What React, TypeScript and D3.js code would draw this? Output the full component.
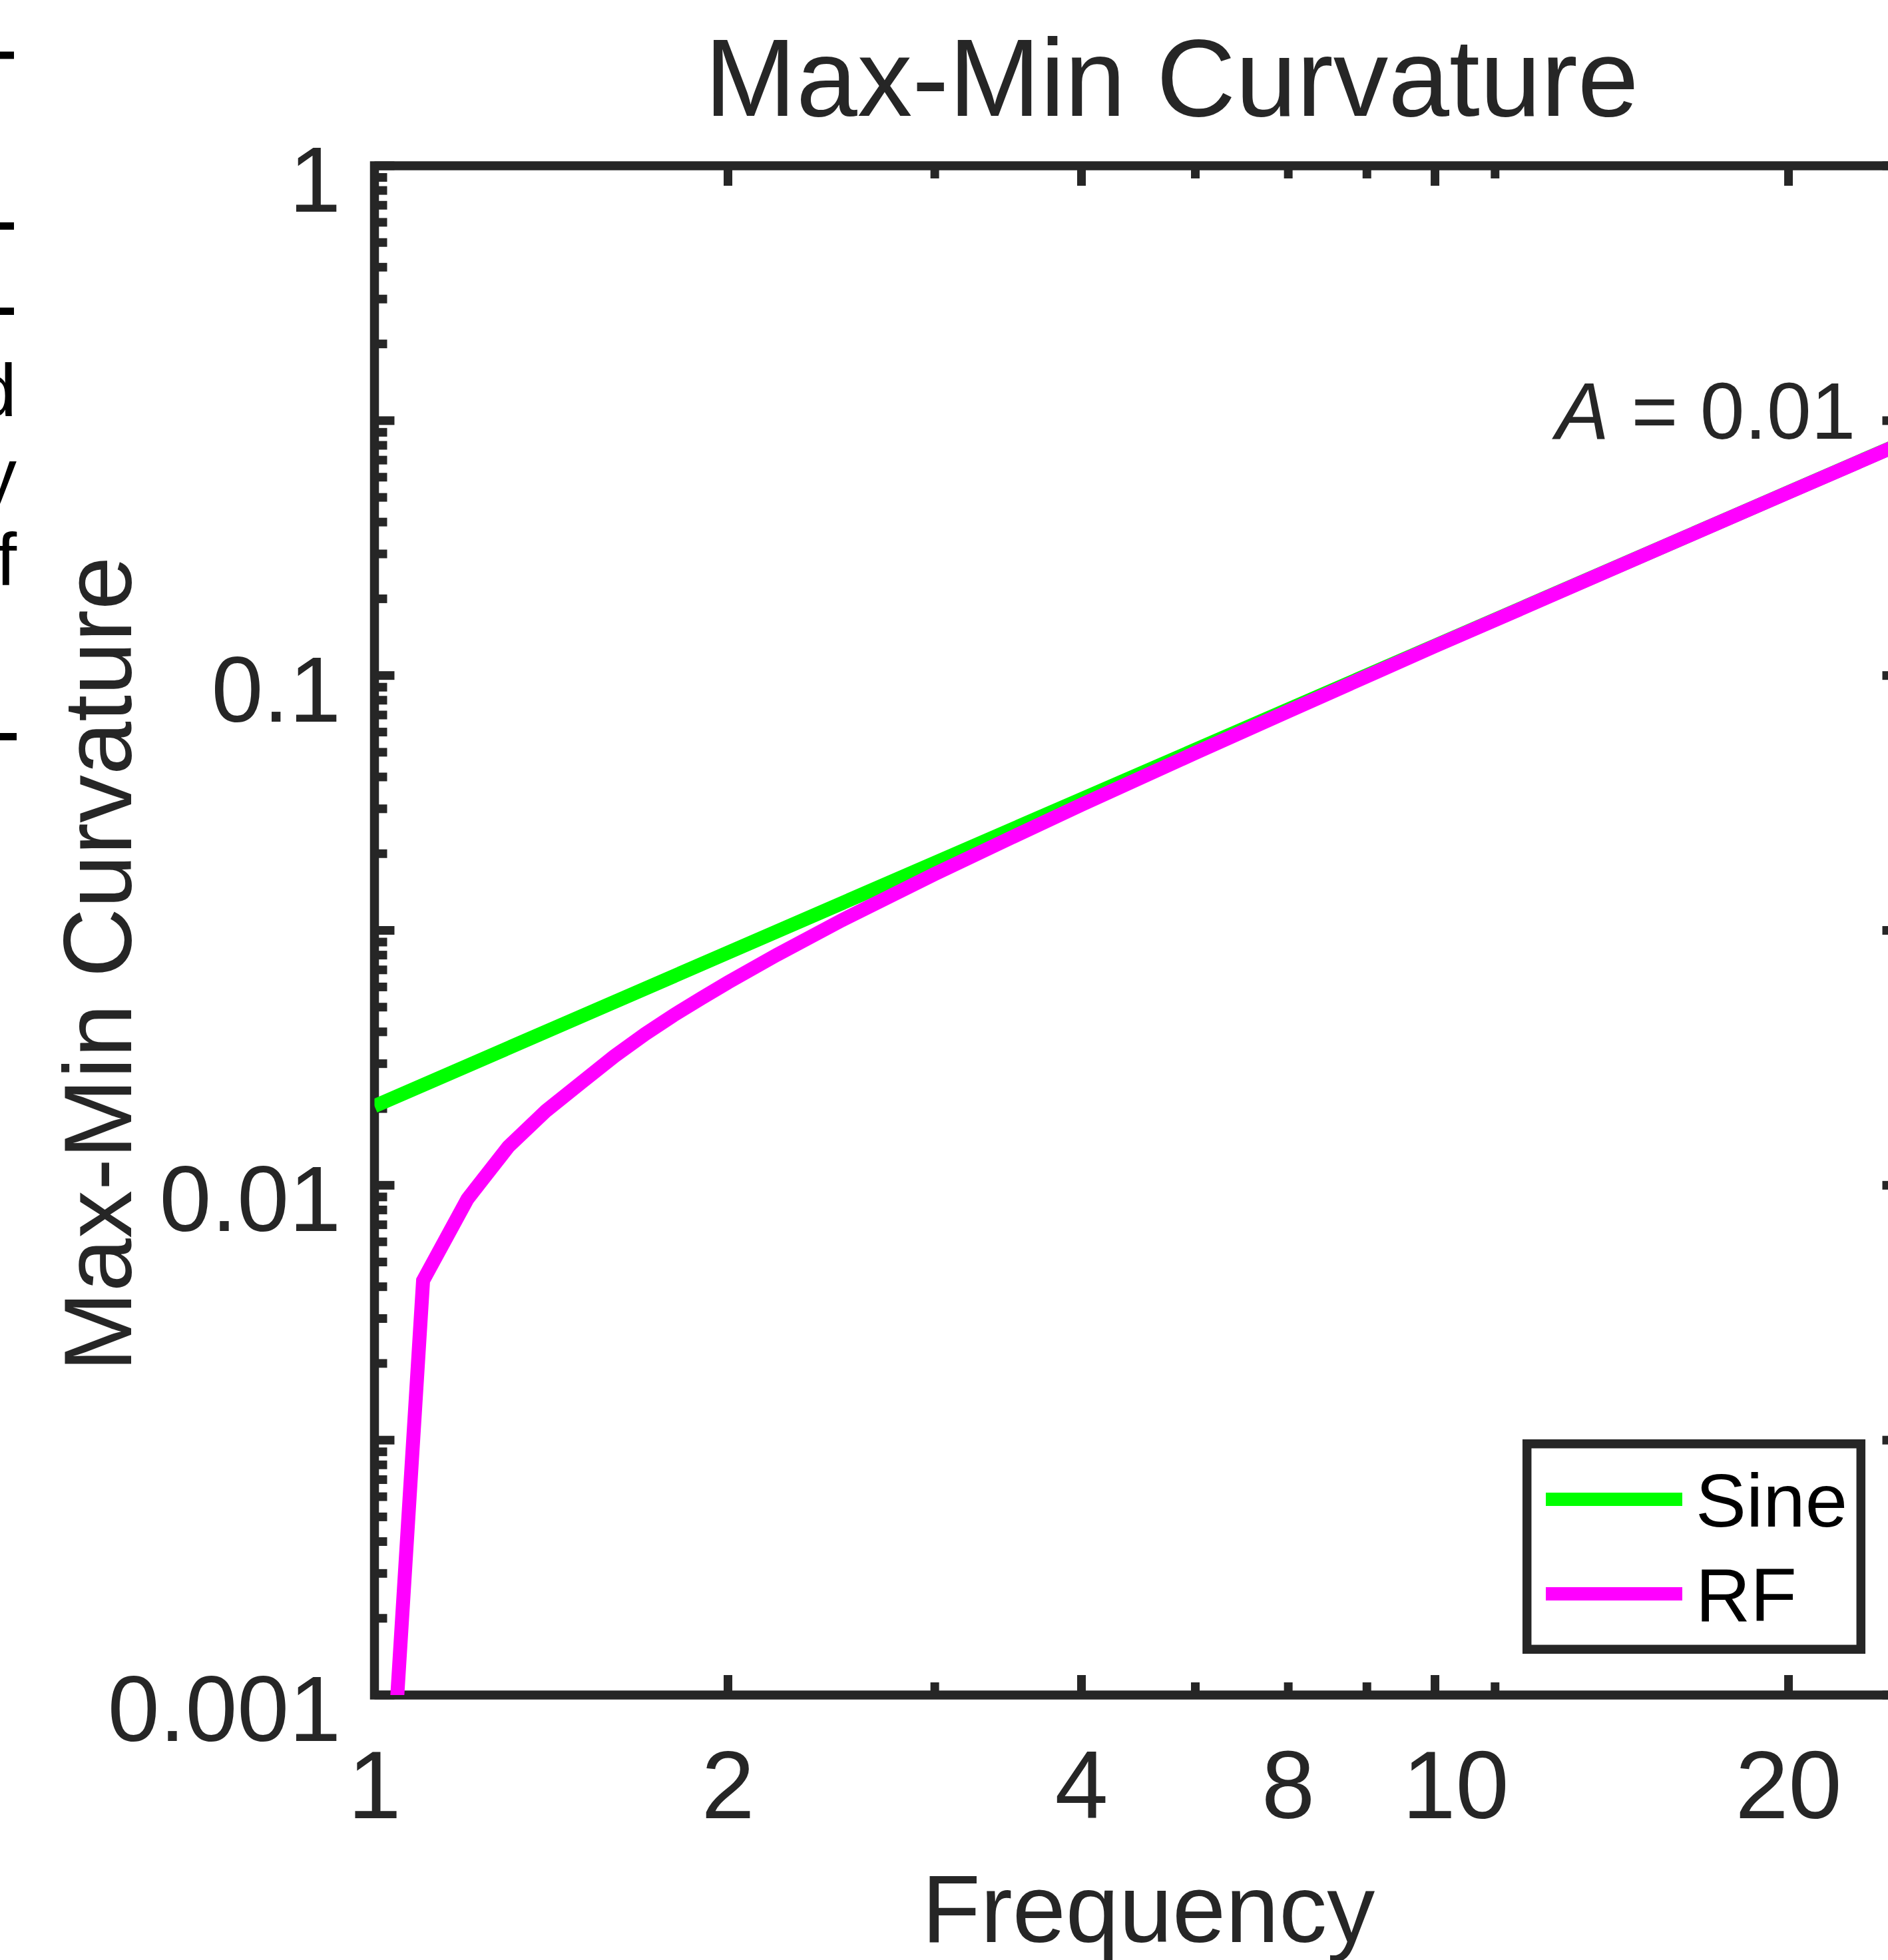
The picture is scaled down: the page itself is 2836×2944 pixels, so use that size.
import React, { useRef, useEffect } from 'react';
import * as d3 from 'd3';

// RF curve (y in the units printed on the axis)
const rfFrequency = [1.0, 1.1, 1.2, 1.3, 1.4, 1.5, 1.6, 1.7, 1.8, 1.9, 2.0, 2.2, 2.5, 3, 3.5, 4, 5, 6, 8, 10, 13, 16, 20];
const rfCurvature = [0.00019, 0.0065, 0.0094, 0.0119, 0.014, 0.0159, 0.0179, 0.0198, 0.0216, 0.0233, 0.025, 0.0283, 0.0331, 0.0408, 0.0483, 0.0558, 0.0705, 0.0851, 0.1142, 0.1428, 0.1858, 0.2287, 0.2857];

// Sine curve (straight in log-log)
const sineFrequency = [1, 2, 4, 8, 10, 16, 20];
const sineCurvature = [0.0143, 0.0286, 0.0572, 0.1144, 0.143, 0.2288, 0.286];

const seriesNames = ['Sine', 'RF'];
const seriesColors = ['#00ff00', '#ff00ff'];

// x axis ticks as drawn in the figure
const xMajorTicks = [2, 4, 8, 16];
const xMinorTicks = [3, 5, 6, 7, 9];
const xTickLabels = ['1', '2', '4', '8', '10', '20'];
const xTickLabelAt = [1, 2, 4, 6, 8.33, 16];

// y axis labels
const yTickLabels = ['1', '0.1', '0.01', '0.001'];
const yTickValues = [1, 0.1, 0.01, 0.001];

const W = 2836;
const H = 2944;
const FONT = '"Liberation Sans", Arial, Helvetica, sans-serif';
const INK = '#262626';

const App = () => {
  const svgRef = useRef(null);

  useEffect(() => {
    const plot = { left: 562.5, top: 249, right: 2857.5, bottom: 2546 };
    const svg = d3.select(svgRef.current);
    svg.selectAll('*').remove();

    const x = d3.scaleLog().domain([1, 20]).range([plot.left, plot.right]);
    const y = d3.scaleLog().domain([0.001, 1]).range([plot.bottom, plot.top]);

    // pieces of the neighbouring panel on the left edge
    const edge = svg.append('g');
    [83, 339.5, 467.5].forEach(c => {
      edge.append('rect').attr('x', 0).attr('y', c - 5.5).attr('width', 21).attr('height', 11).attr('fill', '#000');
    });
    edge.append('rect').attr('x', 0).attr('y', 1101).attr('width', 25).attr('height', 11).attr('fill', '#000');
    [['d', 625], ['y', 752], ['f', 879]].forEach(([t, b]) => {
      edge.append('text')
        .attr('x', 25).attr('y', b)
        .attr('text-anchor', 'end')
        .style('font-family', FONT).style('font-size', '112px')
        .attr('fill', '#000')
        .text(t);
    });

    // y ticks: major every half of a labelled decade, minor in between
    const yMajor = d3.range(0, 7).map(m => Math.pow(10, -m / 2));
    const yMinor = [];
    d3.range(1, 7).forEach(n => {
      d3.range(2, 10).forEach(k => yMinor.push(Math.sqrt(k) * Math.pow(10, -n / 2)));
    });

    const axes = svg.append('g').attr('stroke', INK).attr('stroke-width', 13);
    const tick = (x1, y1, x2, y2) => axes.append('line').attr('x1', x1).attr('y1', y1).attr('x2', x2).attr('y2', y2);
    const longT = 30;
    const shortT = 19;

    yMajor.forEach(v => {
      tick(plot.left, y(v), plot.left + longT, y(v));
      tick(plot.right, y(v), plot.right - longT, y(v));
    });
    yMinor.forEach(v => {
      tick(plot.left, y(v), plot.left + shortT, y(v));
      tick(plot.right, y(v), plot.right - shortT, y(v));
    });
    xMajorTicks.forEach(v => {
      tick(x(v), plot.bottom, x(v), plot.bottom - longT);
      tick(x(v), plot.top, x(v), plot.top + longT);
    });
    xMinorTicks.forEach(v => {
      tick(x(v), plot.bottom, x(v), plot.bottom - shortT);
      tick(x(v), plot.top, x(v), plot.top + shortT);
    });

    axes.append('rect')
      .attr('x', plot.left).attr('y', plot.top)
      .attr('width', plot.right - plot.left).attr('height', plot.bottom - plot.top)
      .attr('fill', 'none').attr('stroke-width', 13.5);

    // data
    svg.append('clipPath').attr('id', 'plot-clip')
      .append('rect')
      .attr('x', plot.left).attr('y', plot.top)
      .attr('width', plot.right - plot.left).attr('height', plot.bottom - plot.top);

    const line = d3.line().x(d => x(d[0])).y(d => y(d[1]));
    const series = [
      d3.zip(sineFrequency, sineCurvature),
      d3.zip(rfFrequency, rfCurvature),
    ];
    const dataG = svg.append('g').attr('clip-path', 'url(#plot-clip)');
    series.forEach((pts, i) => {
      dataG.append('path')
        .attr('d', line(pts))
        .attr('fill', 'none')
        .attr('stroke', seriesColors[i])
        .attr('stroke-width', 21)
        .attr('stroke-linejoin', 'miter')
        .attr('stroke-miterlimit', 2);
    });

    // tick labels
    const txt = (g) => g.style('font-family', FONT).attr('fill', INK);

    xTickLabels.forEach((t, i) => {
      txt(svg.append('text'))
        .attr('x', x(xTickLabelAt[i])).attr('y', 2731)
        .attr('text-anchor', 'middle')
        .style('font-size', '144px')
        .text(t);
    });
    yTickLabels.forEach((t, i) => {
      txt(svg.append('text'))
        .attr('x', 512).attr('y', y(yTickValues[i]) + 69)
        .attr('text-anchor', 'end')
        .style('font-size', '140px')
        .text(t);
    });

    // axis labels and title
    txt(svg.append('text'))
      .attr('x', 1725).attr('y', 2917)
      .attr('text-anchor', 'middle')
      .style('font-size', '144px')
      .text('Frequency');

    txt(svg.append('text'))
      .attr('transform', 'translate(197,1448) rotate(-90)')
      .attr('text-anchor', 'middle')
      .style('font-size', '144px')
      .text('Max-Min Curvature');

    txt(svg.append('text'))
      .attr('x', 1760).attr('y', 174)
      .attr('text-anchor', 'middle')
      .style('font-size', '165px')
      .text('Max-Min Curvature');

    // amplitude note
    const note = txt(svg.append('text'))
      .attr('x', 2337).attr('y', 659)
      .style('font-size', '120px');
    note.append('tspan').style('font-style', 'italic').text('A');
    note.append('tspan').text(' = 0.01');

    // legend
    const legend = svg.append('g');
    legend.append('rect')
      .attr('x', 2293.7).attr('y', 2168.7)
      .attr('width', 2795.3 - 2293.7).attr('height', 2477.3 - 2168.7)
      .attr('fill', '#fff').attr('stroke', INK).attr('stroke-width', 13.5);
    const rowY = [2252, 2394];
    const textY = [2293, 2435];
    seriesNames.forEach((name, i) => {
      legend.append('line')
        .attr('x1', 2322).attr('x2', 2527)
        .attr('y1', rowY[i]).attr('y2', rowY[i])
        .attr('stroke', seriesColors[i]).attr('stroke-width', 20);
      legend.append('text')
        .attr('x', 2547).attr('y', textY[i])
        .style('font-family', FONT).style('font-size', '114px')
        .attr('fill', '#000')
        .text(name);
    });
  }, []);

  return (
    <svg
      ref={svgRef}
      width={W}
      height={H}
      style={{ position: 'absolute', left: 0, top: 0, background: '#fff' }}
    />
  );
};

export default App;
